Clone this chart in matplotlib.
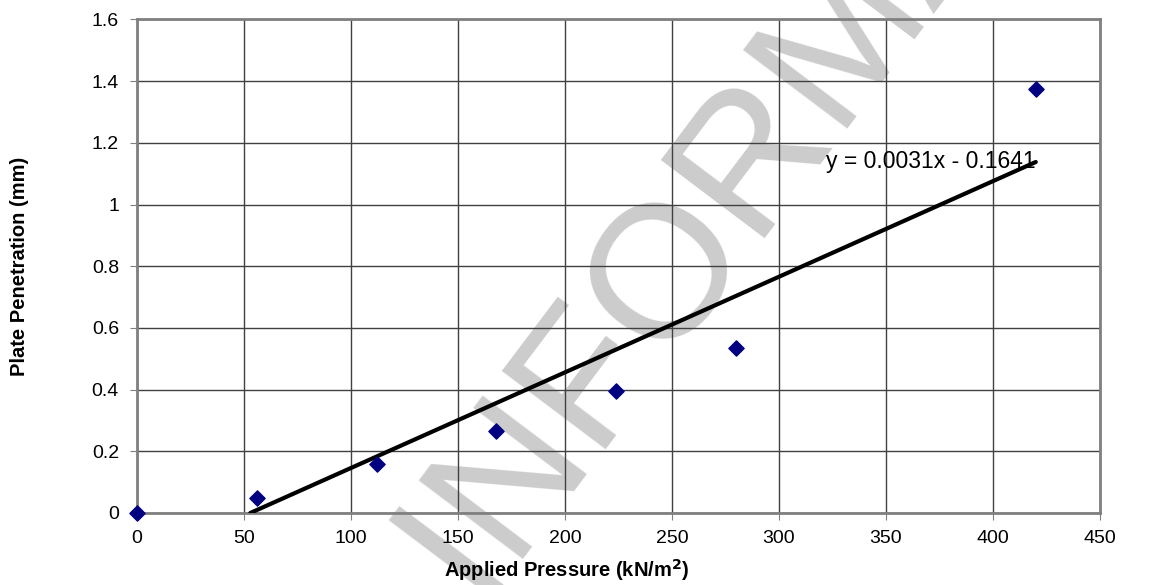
import numpy as np
import matplotlib
matplotlib.use("Agg")
import matplotlib.pyplot as plt

plt.rcParams['font.family'] = ['Liberation Sans', 'DejaVu Sans']

pressure = [0, 56, 112, 168, 224, 280, 420]
penetration = [0.0, 0.05, 0.16, 0.265, 0.395, 0.535, 1.375]
slope = 0.0031
intercept = -0.1641
equation = "y = 0.0031x - 0.1641"
x_ticks = [0, 50, 100, 150, 200, 250, 300, 350, 400, 450]
y_ticks = [0, 0.2, 0.4, 0.6, 0.8, 1, 1.2, 1.4, 1.6]
y_tick_labels = ["0", "0.2", "0.4", "0.6", "0.8", "1", "1.2", "1.4", "1.6"]
watermark = "INFORMATION"

fig = plt.figure(figsize=(11.53, 5.85), dpi=100)
fig.patch.set_facecolor("white")

# big grey watermark, sits under the grid
fig.text(0.7563, 0.8752, watermark, fontsize=137, color="#cccccc",
         rotation=53, rotation_mode="anchor", ha="center", va="baseline",
         zorder=0)

ax = fig.add_axes([0.1188, 0.1231, 0.8352, 0.8436])
ax.set_facecolor("none")
ax.set_zorder(1)

# linear trendline, starts where it crosses y = 0
x_start = -intercept / slope
x_end = max(pressure)
ax.plot([x_start, x_end], [slope * x_start + intercept, slope * x_end + intercept],
        color="black", lw=3, solid_capstyle="round", zorder=3)

ax.scatter(pressure, penetration, marker="D", s=60, color="#000080",
           zorder=4, clip_on=False)

ax.text(322, 1.141, equation, fontsize=16.5, ha="left", va="center", zorder=5)

ax.set_xlim(0, 450)
ax.set_ylim(0, 1.6)
ax.set_xticks(x_ticks)
ax.set_yticks(y_ticks)
ax.set_yticklabels(y_tick_labels)
ax.tick_params(labelsize=14, length=5, color="#808080")
ax.tick_params(axis="y", pad=8)
ax.tick_params(axis="x", pad=7)
ax.grid(True, color="#404040", lw=1)
ax.set_axisbelow(True)
for sp in ax.spines.values():
    sp.set_color("#808080")
    sp.set_linewidth(2)

ax.set_xlabel("Applied Pressure (kN/m$^{\\mathbf{2}}$)", fontsize=14.5, fontweight="bold")
ax.xaxis.set_label_coords(0.4465, -0.089)
ax.set_ylabel("Plate Penetration (mm)", fontsize=14.5, fontweight="bold")
ax.yaxis.set_label_coords(-0.112, 0.5)

fig.savefig("out.png", dpi=100)
